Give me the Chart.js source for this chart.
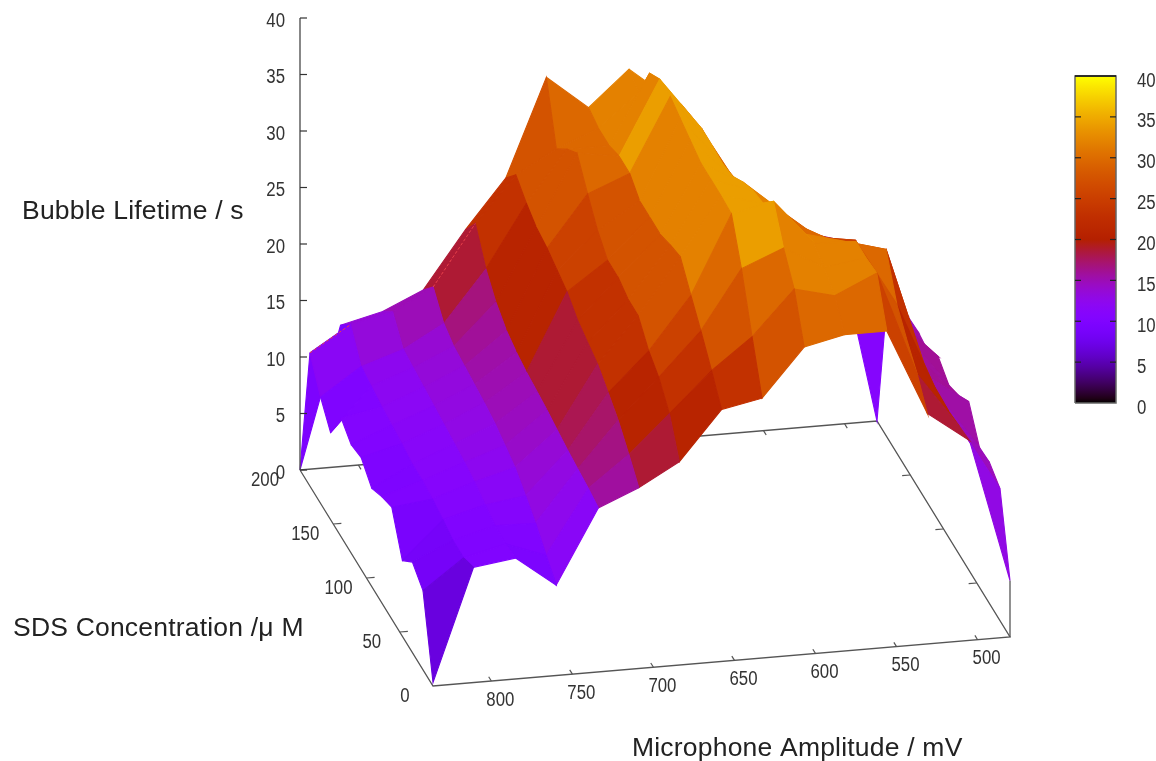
<!DOCTYPE html>
<html><head><meta charset="utf-8">
<style>html,body{margin:0;padding:0;background:#fff}canvas{display:block;filter:blur(0.6px)}</style>
<script src="https://cdn.jsdelivr.net/npm/chart.js@4"></script>
</head><body><canvas id="c" width="1156" height="761"></canvas>
<script>
const amplitudes=[836,811,785,760,734,709,684,658,633,607,582,556,531,505,480];
const concentrations=[200,185,169,154,138,123,108,92,77,62,46,31,15,0];
// lifetime[amplitude index][concentration index], back row first
const lifetime=[
[0,11.8,9.4,7.7,10.5,9.6,9.9,8.7,9.4,9.9,6.7,8,7,0.3],
[12.5,14,11.8,11.5,11.2,11,10.8,10.5,10.5,10.3,10,9.6,9.6,10.2],
[13.4,14.8,13,12.8,12.6,12.4,12.2,12,11.8,11.5,11,10.6,10.5,10.7],
[15,16.7,15,14.4,14.2,14,13.8,13.5,13,12.5,11.5,10.5,9.2,8],
[20,22,19.5,18,17,16.5,16.2,16,15.8,15.5,15.2,15,14.8,14.5],
[24.3,26,25,24.3,24,23.5,23,22,21.5,21,20,19,17.5,16],
[32.9,28,29.5,30.6,28.5,26.7,25.5,25.5,25,25,23.4,22.5,20.8,18],
[29.9,29.5,29.5,30,30,29,29,29,29.5,29.9,28,26.3,24.3,22.3],
[33,32.4,35.6,36.5,36.5,36,35.5,35,35,35,34.9,31.5,27,23],
[30,31,31.4,31.8,31.8,31.7,32,33,33.7,34,35.7,33,30.9,27.2],
[24,24,24.5,25,26,27,28.5,30,30.5,31,31.7,31,30,28],
[20,21,22,23,24,24.5,26,27,28.5,30,31.5,31.5,31.7,28],
[17.5,18.5,19.5,21,22.5,24,25.4,24.6,25.5,29,25.7,24,22.4,20.4],
[16.4,15,13.4,15,16.9,17.5,18,18,17.6,17.4,17.2,17.3,17.5,17.7],
[0,12,13,13.7,13.8,13.5,14.5,13.5,14,14.9,12.4,12.5,11.7,5]
];
const zTicks=[0,5,10,15,20,25,30,35,40];
const cbTicks=[0,5,10,15,20,25,30,35,40];
const ampTicks=[800,750,700,650,600,550,500];
const concTicks=[0,50,100,150,200];
const ampMax=836,ampMin=480,concMax=200;
const O={x:300,y:470},A={x:577,y:-49},B={x:133,y:216},ZK=11.3;
function proj(amp,conc,z){const u=(ampMax-amp)/(ampMax-ampMin),v=(concMax-conc)/concMax;
 return {x:O.x+A.x*u+B.x*v,y:O.y+A.y*u+B.y*v-ZK*z};}
function pal(z){const t=Math.max(0,Math.min(1,z/40));
 return `rgb(${Math.round(255*Math.sqrt(t))},${Math.round(255*t*t*t)},${Math.round(255*Math.max(0,Math.sin(2*Math.PI*t)))})`;}
const STEP=2.2;
function q(z){return z<18?z:Math.floor(z/STEP)*STEP+STEP/2;}
const ds=[];let ord=100000;
function poly(pts,color){ds.push({data:[...pts,pts[0]],showLine:true,fill:'shape',backgroundColor:color,borderColor:color,borderWidth:1.1,pointRadius:0,order:ord--,tension:0});}
function line(pts,color,w,dash){ds.push({data:pts,showLine:true,fill:false,borderColor:color,borderWidth:w,borderDash:dash||[],pointRadius:0,order:ord--,tension:0});}
const AX='#555';
// base frame
line([proj(ampMax,200,0),proj(ampMax,0,0),proj(ampMin,0,0),proj(ampMin,200,0),proj(ampMax,200,0)],AX,1.3);
line([proj(ampMin,0,0),proj(ampMin,0,5)],AX,1.3);
ampTicks.forEach(a=>{line([proj(a,0,0),proj(a,4,0)],AX,1.2);line([proj(a,200,0),proj(a,196,0)],AX,1.2);});
concTicks.slice(1,-1).forEach(c=>{line([proj(ampMax,c,0),proj(ampMax-5,c,0)],AX,1.2);line([proj(ampMin,c,0),proj(ampMin+5,c,0)],AX,1.2);});
// surface, far row first, right to left
for(let r=0;r<concentrations.length-1;r++){
 for(let k=amplitudes.length-2;k>=0;k--){
  const z=[lifetime[k][r],lifetime[k+1][r],lifetime[k+1][r+1],lifetime[k][r+1]];
  const m=(z[0]+z[1]+z[2]+z[3])/4;
  poly([proj(amplitudes[k],concentrations[r],z[0]),proj(amplitudes[k+1],concentrations[r],z[1]),proj(amplitudes[k+1],concentrations[r+1],z[2]),proj(amplitudes[k],concentrations[r+1],z[3])],pal(q(m)));
 }
}
// thin red rim where the surface's far side shows along its top edge
[[0,1],[3,4]].forEach(([a,b])=>line([proj(amplitudes[a],concentrations[1],lifetime[a][1]),proj(amplitudes[b],concentrations[1],lifetime[b][1])],'#e8404a',1,[3,2]));
// vertical axis drawn over
const zTop=proj(ampMax,200,40),zBot=proj(ampMax,200,0);
line([zBot,zTop],AX,1.4);
zTicks.forEach(t=>{const p=proj(ampMax,200,t);line([p,{x:p.x+7,y:p.y}],'#333',1.2);});
// colour box
const CB={l:1075,r:1116};
const grad=document.getElementById('c').getContext('2d').createLinearGradient(0,403,0,76);
for(let i=0;i<=80;i++)grad.addColorStop(i/80,pal(i/2));
ds.push({yAxisID:'cb',data:[{x:CB.l,y:0},{x:CB.r,y:0},{x:CB.r,y:40},{x:CB.l,y:40},{x:CB.l,y:0}],showLine:true,fill:'shape',backgroundColor:grad,borderColor:'#666',borderWidth:1.5,pointRadius:0,order:ord--});
ds.push({yAxisID:'cb',data:[{x:CB.l,y:40},{x:CB.r,y:40}],showLine:true,fill:false,borderColor:'#111',borderWidth:1.5,pointRadius:0,order:ord--});
cbTicks.slice(1,-1).forEach(t=>{
 ds.push({yAxisID:'cb',data:[{x:CB.l,y:t},{x:CB.l+6,y:t}],showLine:true,fill:false,borderColor:'#222',borderWidth:1.2,pointRadius:0,order:ord--});
 ds.push({yAxisID:'cb',data:[{x:CB.r-6,y:t},{x:CB.r,y:t}],showLine:true,fill:false,borderColor:'#222',borderWidth:1.2,pointRadius:0,order:ord--});
});
function tick(c,s,x,y,align){c.save();c.translate(x,y);c.scale(0.84,1);c.textAlign=align;c.fillText(s,0,0);c.restore();}
const textPlugin={id:'text',afterDatasetsDraw(ch){
 const c=ch.ctx;c.save();c.fillStyle='#333';c.textBaseline='middle';
 c.font='20px "Liberation Sans"';
 zTicks.forEach(t=>tick(c,String(t),285,ch.scales.zAxis.getPixelForValue(t)+3,'right'));
 cbTicks.forEach(t=>tick(c,String(t),1137,ch.scales.cb.getPixelForValue(t)+5,'left'));
 ampTicks.forEach(a=>{const p=proj(a,0,0);tick(c,String(a),p.x+9,p.y+19,'center');});
 concTicks.forEach(v=>{const p=proj(ampMax,v,0);tick(c,String(v),p.x-(v===200?35:28),p.y+10,'center');});
 c.fillStyle='#222';c.font='26.5px "Liberation Sans"';c.textAlign='left';c.letterSpacing='0.2px';
 c.fillText('Bubble Lifetime / s',22,212);
 c.fillText('SDS Concentration /\u03bc M',13,629);
 c.fillText('Microphone Amplitude / mV',632,749);
 c.restore();
}};
new Chart(document.getElementById('c'),{type:'scatter',data:{datasets:ds},plugins:[textPlugin],options:{
 responsive:false,animation:false,layout:{padding:0},
 plugins:{legend:{display:false},tooltip:{enabled:false},filler:{drawTime:'beforeDatasetDraw'}},
 scales:{
  x:{type:'linear',display:false,min:0,max:1156},
  y:{type:'linear',display:false,min:0,max:761,reverse:true},
  zAxis:{axis:'y',position:'left',type:'linear',display:false,min:(470-761)/ZK,max:470/ZK},
  cb:{axis:'y',position:'left',type:'linear',display:false,min:-(761-403)*40/327,max:40+76*40/327}
 }}});
</script></body></html>
